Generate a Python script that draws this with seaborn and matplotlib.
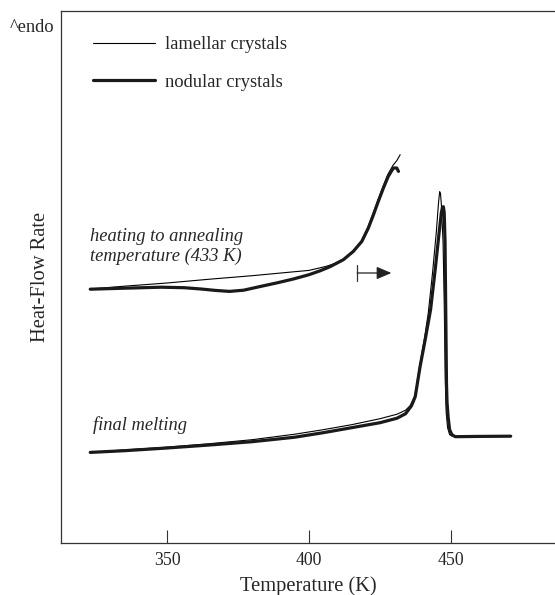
import matplotlib
matplotlib.use("Agg")
import matplotlib.pyplot as plt
import seaborn as sns
import pandas as pd

# ---------------- data ----------------
samples = ["lamellar crystals", "nodular crystals"]

# heating to annealing temperature (upper traces)
heat_T_lam = [323, 335, 350, 365, 380, 395, 400, 406, 410, 413, 415.5, 418.5,
              420.8, 422.6, 424.3, 426.1, 427.8, 429.6, 430.9, 432.1]
heat_Q_lam = [253.7, 256.5, 259.7, 263.5, 267, 271, 272.3, 276.3, 280, 285,
              291.5, 302, 316, 329.5, 343, 356.5, 368.5, 377.5, 382, 388]

heat_T_nod = [323, 335, 348, 356, 362, 367, 372, 377, 383, 389, 394.5, 400,
              404, 407.4, 412.1, 415.6, 418.6, 420.9, 422.7, 424.4, 426.2,
              427.9, 429.7, 430.9, 431.5]
heat_Q_nod = [253.5, 254.5, 255.5, 255, 253.7, 252.3, 251.3, 252.5, 256.3,
              260, 263.7, 268, 272, 276, 283, 291.3, 301.3, 314.7, 328, 341.3,
              354.7, 366.3, 374.7, 374.7, 371.3]

# final melting (lower traces)
melt_T_lam = [323, 335, 350, 365, 380, 395, 405, 415, 425, 431, 434, 435.6,
              437.3, 439.0, 440.7, 442.0, 443.5, 444.8, 445.6, 446.0, 446.3,
              446.6, 447.2, 447.6, 448.0, 448.3, 448.8, 449.5, 450.5, 455,
              462, 470.6]
melt_Q_lam = [90.3, 92.8, 95.5, 99, 103, 108.5, 113, 118, 124, 128.5, 132.5,
              137, 147, 178, 205, 230, 270, 310, 340, 351, 349, 338, 300, 240,
              160, 130, 115, 108, 106.5, 106.3, 106.3, 106.5]

melt_T_nod = [323, 335, 350, 365, 380, 395, 405, 415, 425, 431, 434, 436.1,
              437.4, 439.1, 440.9, 442.8, 444.5, 445.8, 446.6, 447.0, 447.3,
              447.6, 447.9, 448.1, 448.4, 448.6, 449.0, 449.5, 450.3, 451.5,
              460, 471]
melt_Q_nod = [90.3, 92, 94.7, 97.7, 101, 105.5, 110, 115, 120, 124.5, 129,
              137, 146, 176, 203, 233, 275, 310, 330, 335.5, 336, 330, 300,
              243, 160, 140, 125, 113, 108, 106, 106.3, 106.5]

x_ticks = [350, 400, 450]
x_label = "Temperature (K)"
y_label = "Heat-Flow Rate"
endo_label = "^endo"
heat_note = "heating to annealing\ntemperature (433 K)"
melt_note = "final melting"

# annealing-start marker (bar + arrow)
arrow_start_T = 417.0
arrow_end_T = 429.0
arrow_Q = 269.7
bar_Q = (261.3, 278.0)

# ---------------- build table ----------------
frames = []
for s, seg, T, Q in [
    (samples[0], "heat", heat_T_lam, heat_Q_lam),
    (samples[1], "heat", heat_T_nod, heat_Q_nod),
    (samples[0], "melt", melt_T_lam, melt_Q_lam),
    (samples[1], "melt", melt_T_nod, melt_Q_nod),
]:
    frames.append(pd.DataFrame({"T": T, "Q": Q, "sample": s,
                                "segment": f"{s}-{seg}"}))
df = pd.concat(frames, ignore_index=True)

# ---------------- style ----------------
sns.set_style("white")
plt.rcParams["font.family"] = ["Liberation Serif", "DejaVu Serif"]

fig = plt.figure(figsize=(5.55, 5.95), dpi=100)
ax = fig.add_axes([60.7 / 555, 1 - 542.7 / 595, 1 - 60.7 / 555,
                   (542.7 - 11) / 595])

sns.lineplot(data=df, x="T", y="Q", hue="sample", size="sample",
             units="segment", estimator=None, sort=False,
             palette={samples[0]: "black", samples[1]: "#1a1a1a"},
             sizes={samples[0]: 0.8, samples[1]: 2.3},
             hue_order=samples, size_order=samples, ax=ax)

ax.set_xlim(312.6, 486.6)
ax.set_ylim(0, 531.7)
ax.set_xticks(x_ticks)
ax.set_yticks([])
ax.tick_params(axis="x", bottom=True, direction="in", length=9.4, width=0.8,
               labelsize=12.8, pad=7, color="#333333")
ax.set_xlabel(x_label, fontsize=14.8, labelpad=5)
ax.set_ylabel(y_label, fontsize=14.8, labelpad=7.5)

for side in ["left", "bottom", "top"]:
    ax.spines[side].set_color("#333333")
    ax.spines[side].set_linewidth(0.9)
ax.spines["right"].set_visible(False)

# legend
sns.move_legend(ax, "upper left", bbox_to_anchor=(0.065, 0.9526),
                frameon=False, title=None, fontsize=13.3,
                handlelength=3.35, handletextpad=0.55, labelspacing=1.12,
                borderpad=0, borderaxespad=0)

# annotations
ax.text(322.9, 296, heat_note, fontsize=13.3, style="italic",
        ha="left", va="center", linespacing=1.2)
ax.text(324.0, 118, melt_note, fontsize=13.3, style="italic",
        ha="left", va="center")
fig.text(10 / 555, 1 - 27 / 595, endo_label, fontsize=13.3,
         ha="left", va="center")

ax.plot([arrow_start_T, arrow_start_T], list(bar_Q), color="#333333", lw=0.9)
ax.annotate("", xy=(arrow_end_T, arrow_Q), xytext=(arrow_start_T, arrow_Q),
            arrowprops=dict(arrowstyle="-|>,head_length=0.75,head_width=0.32",
                            color="#222222", lw=0.9, shrinkA=0, shrinkB=0,
                            mutation_scale=12))

fig.savefig("out.png", dpi=100)
